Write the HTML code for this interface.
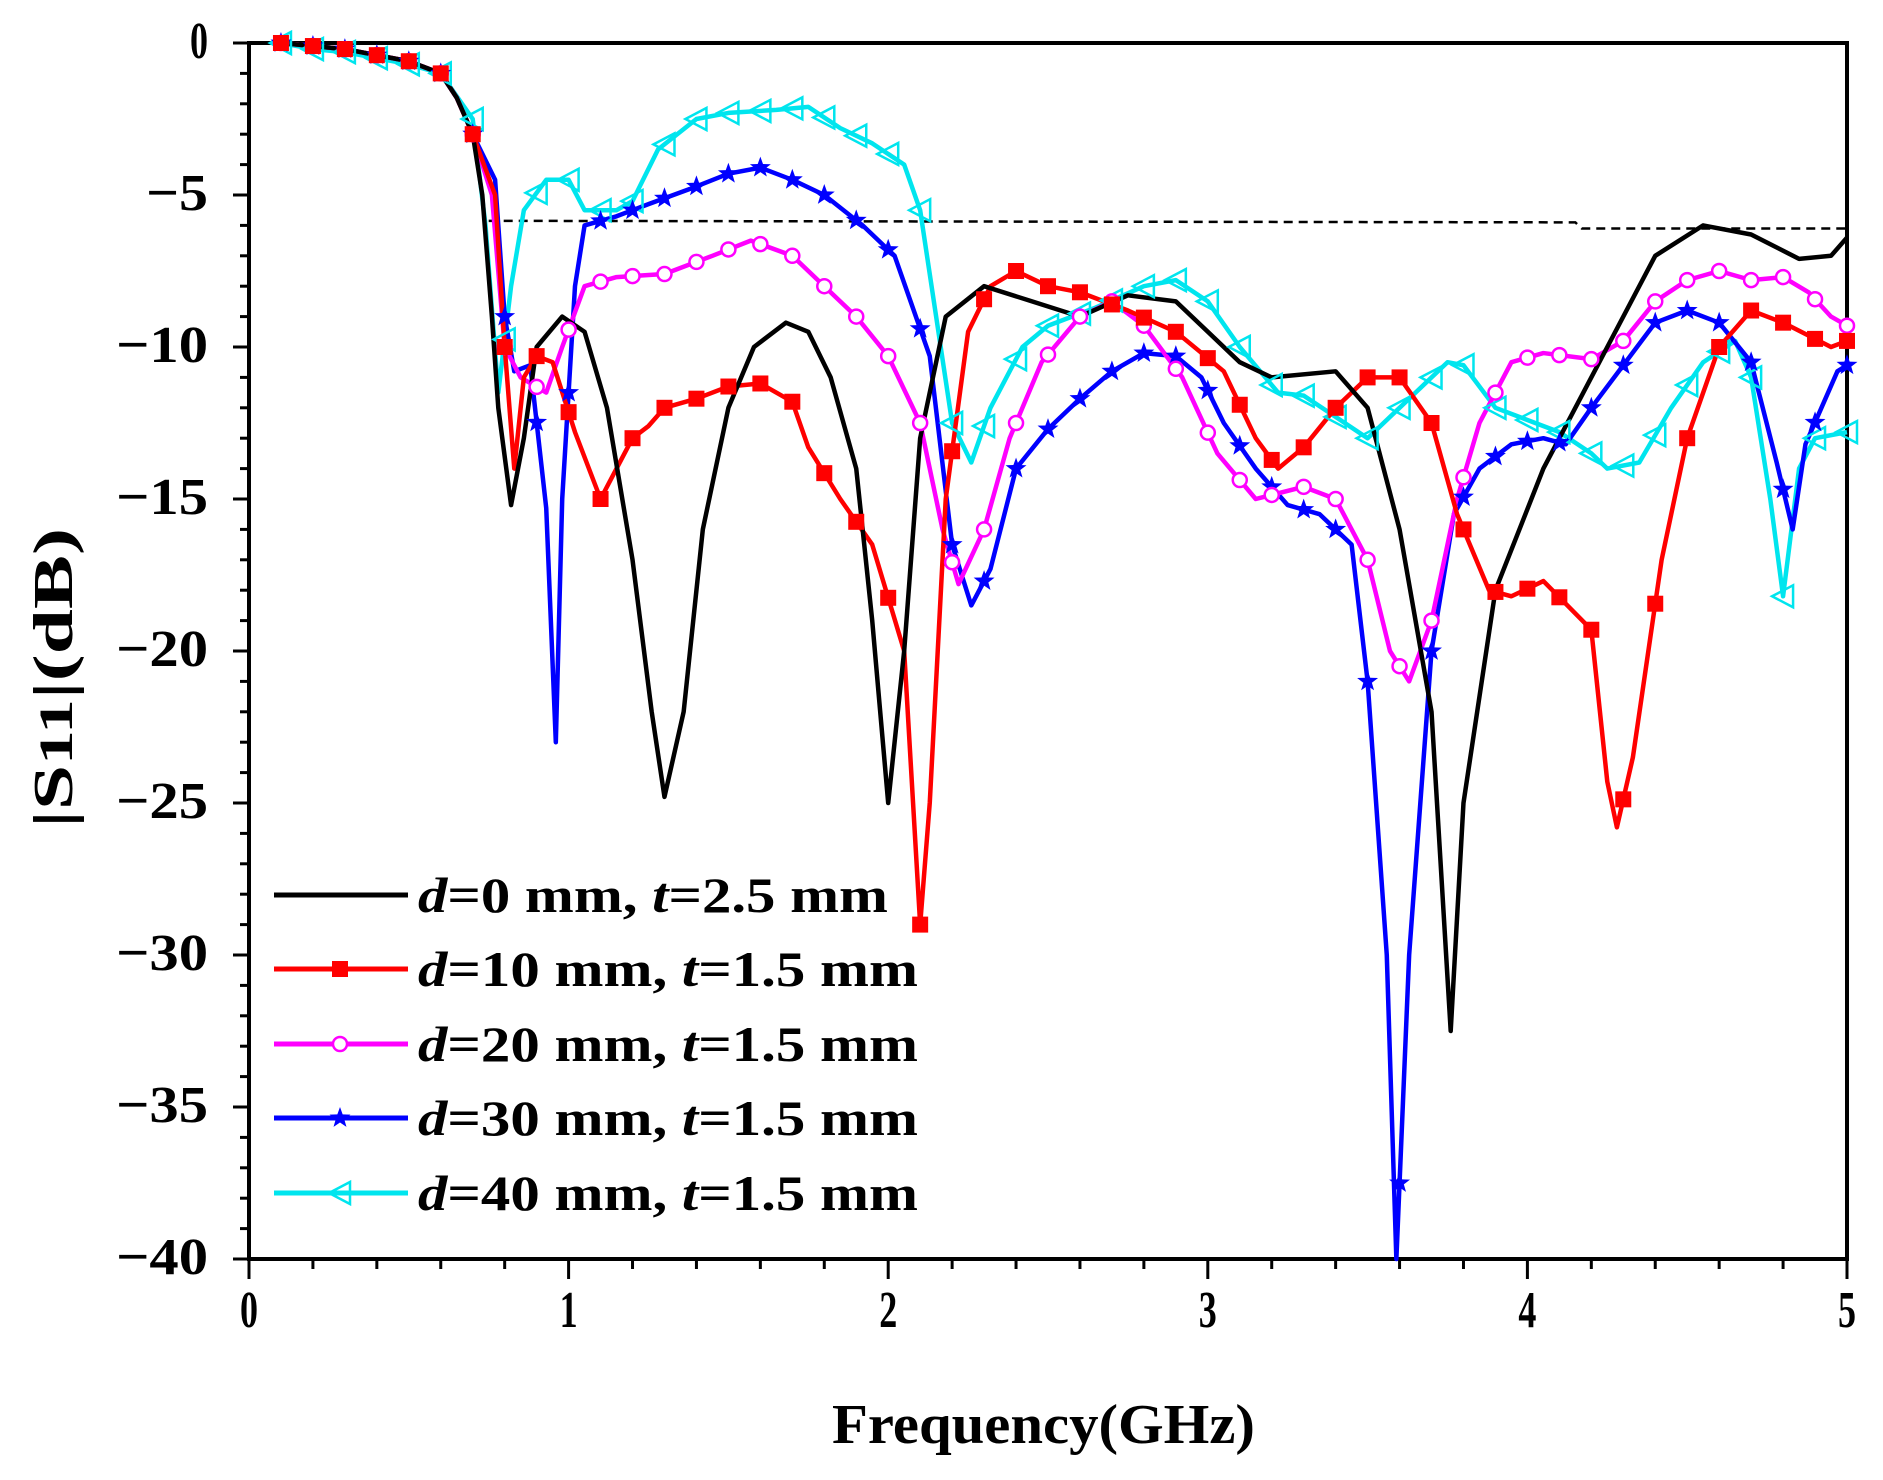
<!DOCTYPE html>
<html><head><meta charset="utf-8"><style>
html,body{margin:0;padding:0;background:#fff;}
svg{display:block;font-family:"Liberation Serif",serif;}
</style></head><body>
<svg id="s" width="1883" height="1480" viewBox="0 0 1883 1480" xmlns="http://www.w3.org/2000/svg">
<g id="ax"></g>
<g id="plot"></g>
<g id="ylab" font-weight="bold" font-size="52" text-anchor="end" fill="#000"></g>
<g id="xlab" font-weight="bold" font-size="52" text-anchor="middle" fill="#000"></g>
<text x="832" y="1443" font-weight="bold" font-size="56" textLength="423" lengthAdjust="spacingAndGlyphs">Frequency(GHz)</text>
<text transform="translate(72,678) rotate(-90)" font-weight="bold" font-size="56" text-anchor="middle" textLength="300" lengthAdjust="spacingAndGlyphs">|S<tspan font-size="48">11</tspan>|(dB)</text>
<g id="leg" font-weight="bold" font-size="50" fill="#000"></g>
</svg>
<script>
var X0=249,X1=1847,Y0=43,Y1=1259;
function px(f){return X0+(f/5)*(X1-X0);}
function py(d){return Y0+(-d/40)*(Y1-Y0);}
var NS="http://www.w3.org/2000/svg";
function el(t,a,p){var e=document.createElementNS(NS,t);for(var k in a)e.setAttribute(k,a[k]);(p||document.getElementById('plot')).appendChild(e);return e;}
var ax=document.getElementById('ax');
el('rect',{x:X0,y:Y0,width:X1-X0,height:Y1-Y0,fill:'none',stroke:'#000','stroke-width':4},ax);
for(var d=0;d>=-40;d--){var L=(d%5==0)?16:9;el('line',{x1:X0-L,x2:X0,y1:py(d),y2:py(d),stroke:'#000','stroke-width':3},ax);}
for(var f=0;f<=5.001;f+=0.2){var maj=Math.abs(f-Math.round(f))<0.01;el('line',{x1:px(f),x2:px(f),y1:Y1,y2:Y1+(maj?20:10),stroke:'#000','stroke-width':3},ax);}
var yl=document.getElementById('ylab');
for(var v=0;v>=-40;v-=5){var t=el('text',{x:208,y:py(v)+15},yl);var s=v==0?'0':'\u2212'+(-v);t.textContent=s;t.setAttribute('textLength',v==0?18:(v==-5?62:92));t.setAttribute('lengthAdjust','spacingAndGlyphs');}
var xl=document.getElementById('xlab');
for(var g=0;g<=5;g++){var t=el('text',{x:px(g),y:1327},xl);t.textContent=g;t.setAttribute('textLength',18);t.setAttribute('lengthAdjust','spacingAndGlyphs');}
el('polyline',{points:px(0.75)+','+py(-5.85)+' '+px(4.15)+','+py(-5.9)+' '+px(4.17)+','+py(-6.1)+' '+px(5)+','+py(-6.1),fill:'none',stroke:'#000','stroke-width':2.5,'stroke-dasharray':'9,6'});
var start=[[0.1,0],[0.2,-0.1],[0.3,-0.2],[0.4,-0.4],[0.5,-0.6],[0.6,-1.0],[0.65,-1.8],[0.7,-3]];
var S={
k:start.concat([[0.73,-5],[0.76,-9],[0.78,-12],[0.82,-15.2],[0.86,-13],[0.9,-10],[0.98,-9],[1.05,-9.5],[1.12,-12],[1.2,-17],[1.26,-22],[1.3,-24.8],[1.36,-22],[1.42,-16],[1.5,-12],[1.58,-10],[1.68,-9.2],[1.75,-9.5],[1.82,-11],[1.9,-14],[1.95,-19],[2.0,-25],[2.05,-20],[2.1,-13],[2.18,-9],[2.3,-8],[2.45,-8.5],[2.6,-9],[2.75,-8.3],[2.9,-8.5],[3.0,-9.5],[3.1,-10.5],[3.2,-11],[3.4,-10.8],[3.5,-12],[3.6,-16],[3.7,-22],[3.76,-32.5],[3.8,-25],[3.9,-18],[4.05,-14],[4.25,-10],[4.4,-7],[4.55,-6],[4.7,-6.3],[4.85,-7.1],[4.95,-7],[5,-6.4]]),
r:start.concat([[0.77,-5],[0.8,-10],[0.83,-14],[0.86,-11],[0.9,-10.3],[0.95,-10.5],[1.02,-12.8],[1.1,-15],[1.15,-14],[1.2,-13],[1.25,-12.6],[1.3,-12],[1.4,-11.7],[1.5,-11.3],[1.6,-11.2],[1.7,-11.8],[1.75,-13.3],[1.85,-15],[1.95,-16.5],[2.05,-20],[2.1,-29],[2.13,-25],[2.18,-15],[2.25,-9.5],[2.32,-8],[2.4,-7.5],[2.5,-8],[2.6,-8.2],[2.75,-8.8],[2.9,-9.5],[3.05,-10.8],[3.15,-13],[3.22,-14],[3.3,-13.3],[3.4,-12],[3.5,-11],[3.6,-11],[3.7,-12.5],[3.78,-15.5],[3.88,-18],[3.95,-18.2],[4.05,-17.7],[4.2,-19.3],[4.25,-24.3],[4.28,-25.8],[4.33,-23.5],[4.42,-17],[4.5,-13],[4.6,-10],[4.7,-8.8],[4.8,-9.2],[4.95,-10],[5,-9.8]]),
m:start.concat([[0.76,-5],[0.8,-10],[0.85,-11],[0.93,-11.5],[0.98,-10],[1.05,-8],[1.15,-7.7],[1.3,-7.6],[1.45,-7],[1.57,-6.5],[1.7,-7],[1.8,-8],[1.9,-9],[2.0,-10.3],[2.1,-12.5],[2.17,-16],[2.22,-17.8],[2.3,-16],[2.38,-13],[2.48,-10.5],[2.6,-9],[2.7,-8.5],[2.8,-9.3],[2.92,-11],[3.03,-13.5],[3.15,-15],[3.3,-14.6],[3.4,-15],[3.5,-17],[3.57,-20],[3.63,-21],[3.7,-19],[3.78,-15],[3.85,-12.5],[3.95,-10.5],[4.05,-10.2],[4.2,-10.4],[4.3,-9.8],[4.4,-8.5],[4.5,-7.8],[4.6,-7.5],[4.7,-7.8],[4.8,-7.7],[4.88,-8.2],[4.95,-9],[5,-9.3]]),
b:start.concat([[0.77,-4.5],[0.8,-9],[0.83,-10.8],[0.88,-10.6],[0.93,-15.3],[0.96,-23],[0.98,-15],[1.02,-8],[1.05,-6],[1.15,-5.7],[1.25,-5.3],[1.38,-4.8],[1.5,-4.3],[1.6,-4.1],[1.7,-4.5],[1.8,-5],[1.92,-6],[2.02,-7],[2.13,-10.3],[2.2,-16.5],[2.26,-18.5],[2.32,-17.3],[2.4,-14],[2.5,-12.7],[2.6,-11.7],[2.7,-10.8],[2.8,-10.2],[2.9,-10.3],[2.98,-11],[3.05,-12.5],[3.15,-14],[3.25,-15.2],[3.35,-15.5],[3.45,-16.5],[3.5,-21],[3.56,-30],[3.59,-40],[3.63,-30],[3.7,-20],[3.77,-15.5],[3.85,-14],[3.95,-13.2],[4.05,-13],[4.12,-13.2],[4.2,-12],[4.3,-10.6],[4.4,-9.2],[4.5,-8.8],[4.6,-9.2],[4.7,-10.5],[4.78,-13.8],[4.83,-16],[4.87,-13.2],[4.92,-12],[4.97,-10.8],[5,-10.6]]),
c:[[0.1,0],[0.2,-0.2],[0.3,-0.3],[0.4,-0.5],[0.5,-0.7],[0.6,-1],[0.7,-2.5],[0.74,-6],[0.78,-11.5],[0.82,-8],[0.86,-5.5],[0.93,-4.5],[1.0,-4.5],[1.05,-5.5],[1.15,-5.5],[1.2,-5.2],[1.28,-3.5],[1.4,-2.5],[1.5,-2.3],[1.65,-2.2],[1.75,-2.1],[1.85,-2.8],[1.95,-3.3],[2.05,-4],[2.1,-5.5],[2.15,-9],[2.2,-12.5],[2.26,-13.8],[2.32,-12],[2.42,-10],[2.5,-9.3],[2.65,-8.7],[2.8,-8],[2.9,-7.8],[3.0,-8.5],[3.1,-10],[3.22,-11.5],[3.3,-11.6],[3.4,-12.3],[3.5,-13],[3.55,-12.5],[3.65,-11.5],[3.75,-10.5],[3.8,-10.6],[3.9,-12],[4.0,-12.4],[4.1,-12.8],[4.2,-13.5],[4.25,-14],[4.35,-13.8],[4.45,-12],[4.55,-10.5],[4.65,-9.8],[4.7,-11],[4.76,-15],[4.8,-18.2],[4.85,-14],[4.9,-13],[5,-12.8]]
};
var col={k:'#000',r:'#ff0000',m:'#ff00ff',b:'#0000ff',c:'#00e5ee'};
function marker(t,x,y,p){
 if(t=='r')el('rect',{x:x-8,y:y-8,width:16,height:16,fill:col.r},p);
 else if(t=='m')el('circle',{cx:x,cy:y,r:7,fill:'#fff',stroke:col.m,'stroke-width':2.5},p);
 else if(t=='b'){var pts='';for(var i=0;i<10;i++){var a=-Math.PI/2+i*Math.PI/5,R=i%2?4.5:11;pts+=(x+R*Math.cos(a))+','+(y+R*Math.sin(a))+' ';}el('polygon',{points:pts,fill:col.b},p);}
 else if(t=='c')el('polygon',{points:(x-11)+','+y+' '+(x+10)+','+(y-11)+' '+(x+10)+','+(y+11),fill:'none',stroke:col.c,'stroke-width':2.5},p);
}
['k','r','m','b','c'].reverse().forEach(function(t){
 var pts=S[t].map(function(q){return px(q[0])+','+py(q[1]);}).join(' ');
 el('polyline',{points:pts,fill:'none',stroke:col[t],'stroke-width':4.5,'stroke-linejoin':'round'});
});
['c','b','m','r'].forEach(function(t){
 var d=S[t];
 for(var f=0.1;f<=5.001;f+=0.1){
  for(var i=0;i<d.length-1;i++){if(f>=d[i][0]-1e-9&&f<=d[i+1][0]+1e-9){var u=(f-d[i][0])/(d[i+1][0]-d[i][0]);var v=d[i][1]+u*(d[i+1][1]-d[i][1]);marker(t,px(f),py(v));break;}}
 }
});
var leg=document.getElementById('leg');
var rows=[['k','0','2.5',895],['r','10','1.5',969],['m','20','1.5',1044],['b','30','1.5',1118],['c','40','1.5',1193]];
rows.forEach(function(r){
 el('line',{x1:274,x2:408,y1:r[3],y2:r[3],stroke:col[r[0]],'stroke-width':5},leg);
 if(r[0]!='k')marker(r[0],340,r[3],leg);
 var tx=el('text',{x:418,y:r[3]+17,textLength:(r[0]=='k'?470:500),lengthAdjust:'spacingAndGlyphs'},leg);
 tx.innerHTML='<tspan font-style="italic">d</tspan>='+r[1]+' mm, <tspan font-style="italic">t</tspan>='+r[2]+' mm';
});
</script>
</body></html>
